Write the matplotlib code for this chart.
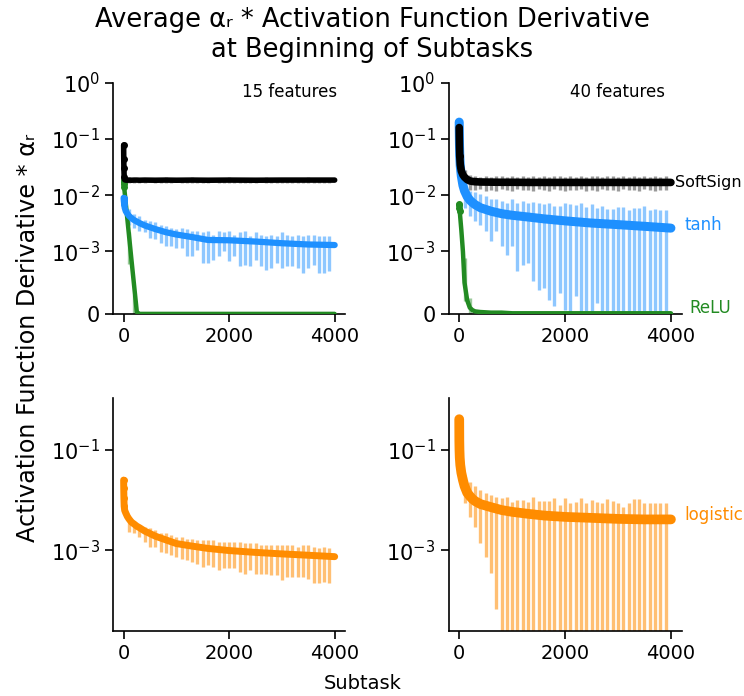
import matplotlib
matplotlib.use("Agg")
import matplotlib.pyplot as plt
from matplotlib.ticker import NullLocator

# subtask positions of the plotted means
mean_x = [0, 2, 5, 10, 20, 40, 70, 100, 150, 200, 250, 300, 400, 600, 800,
          1000, 1300, 1600, 2000, 2500, 3000, 3500, 4000]

# 15 features
softsign_15 = [0.078, 0.045, 0.03, 0.021, 0.0188, 0.0186, 0.0185, 0.0186, 0.0185, 0.0186, 0.0186, 0.0185,
               0.0186, 0.0185, 0.0186, 0.0185, 0.0186, 0.0185, 0.0186, 0.0185, 0.0186, 0.0186, 0.0186]
tanh_15 = [0.009, 0.0085, 0.0078, 0.007, 0.006, 0.0052, 0.0047, 0.0043, 0.0039, 0.0036, 0.0034, 0.0032,
           0.0029, 0.0025, 0.0022, 0.0020, 0.0018, 0.0016, 0.00158, 0.0015, 0.0014, 0.00133, 0.0013]
relu_15 = [0.0185, 0.0175, 0.016, 0.0139, 0.0112, 0.0072, 0.0038, 0.002, 0.00085, 0.00044, 0.00003, 0.0,
           0.0, 0.0, 0.0, 0.0, 0.0, 0.0, 0.0, 0.0, 0.0, 0.0, 0.0]
logistic_15 = [0.025, 0.017, 0.011, 0.0075, 0.0062, 0.0055, 0.0047, 0.0042, 0.0036, 0.0033, 0.003, 0.0028,
               0.0024, 0.0019, 0.0016, 0.00135, 0.0012, 0.00108, 0.00098, 0.0009, 0.00084, 0.00079, 0.00074]

# 40 features
softsign_40 = [0.16, 0.11, 0.075, 0.05, 0.035, 0.027, 0.023, 0.021, 0.019, 0.018, 0.0176, 0.0174,
               0.0172, 0.0171, 0.017, 0.017, 0.0169, 0.0169, 0.0169, 0.0169, 0.0169, 0.0169, 0.0169]
tanh_40 = [0.2, 0.13, 0.08, 0.05, 0.033, 0.022, 0.015, 0.012, 0.0095, 0.0082, 0.0074, 0.0068,
           0.006, 0.0052, 0.0047, 0.0044, 0.0041, 0.0038, 0.0035, 0.0032, 0.0030, 0.0028, 0.0026]
relu_40 = [0.0069, 0.0066, 0.006, 0.0052, 0.004, 0.0024, 0.001, 0.0005, 0.00022, 0.0001, 0.00006, 0.00004,
           0.00003, 0.00002, 0.00002, 0.00001, 0.00001, 0.00001, 0.00001, 0.00001, 0.00001, 0.00001, 0.00001]
logistic_40 = [0.41, 0.15, 0.1, 0.07, 0.05, 0.035, 0.025, 0.019, 0.014, 0.012, 0.0105, 0.0095,
               0.0083, 0.0072, 0.0063, 0.0058, 0.0053, 0.0049, 0.0046, 0.0044, 0.0042, 0.0041, 0.0041]

# error bars, every 100 subtasks
bar_x = [100, 200, 300, 400, 500, 600, 700, 800, 900, 1000, 1100, 1200, 1300, 1400, 1500, 1600,
         1700, 1800, 1900, 2000, 2100, 2200, 2300, 2400, 2500, 2600, 2700, 2800, 2900, 3000, 3100,
         3200, 3300, 3400, 3500, 3600, 3700, 3800, 3900]

softsign_15_lo = [0.0166, 0.0168, 0.0167, 0.0168, 0.0169, 0.0167, 0.0168, 0.0167, 0.0168, 0.0169,
                  0.0167, 0.0168, 0.0166, 0.0168, 0.0167, 0.0168, 0.0169, 0.0167, 0.0168, 0.0167,
                  0.0168, 0.0166, 0.0168, 0.0167, 0.0168, 0.0169, 0.0167, 0.0168, 0.0167, 0.0168,
                  0.0167, 0.0168, 0.0166, 0.0168, 0.0167, 0.0168, 0.0167, 0.0168, 0.0167]
softsign_15_hi = [0.0208, 0.0206, 0.0205, 0.0206, 0.0204, 0.0206, 0.0205, 0.0207, 0.0205, 0.0204,
                  0.0206, 0.0205, 0.0207, 0.0205, 0.0206, 0.0204, 0.0205, 0.0206, 0.0205, 0.0207,
                  0.0205, 0.0206, 0.0204, 0.0206, 0.0205, 0.0206, 0.0207, 0.0205, 0.0206, 0.0204,
                  0.0206, 0.0205, 0.0206, 0.0205, 0.0207, 0.0205, 0.0206, 0.0205, 0.0206]
tanh_15_lo = [0.0030, 0.00265, 0.0023, 0.0022, 0.00176, 0.00164, 0.0014, 0.00124, 0.00124, 0.00114,
              0.00114, 0.00092, 0.00092, 0.00108, 0.00082, 0.00082, 0.00087, 0.00092, 0.00101, 0.00084,
              0.00092, 0.00076, 0.00079, 0.00076, 0.00087, 0.00076, 0.00071, 0.00074, 0.00082, 0.00074,
              0.00076, 0.00076, 0.00074, 0.00066, 0.00074, 0.00079, 0.00066, 0.00066, 0.00068]
tanh_15_hi = [0.0056, 0.0046, 0.0042, 0.0037, 0.0035, 0.0033, 0.0030, 0.0028, 0.0026, 0.0025,
              0.0026, 0.0025, 0.0023, 0.0023, 0.0022, 0.0023, 0.0020, 0.0023, 0.0022, 0.0023,
              0.0020, 0.0022, 0.0023, 0.0019, 0.0022, 0.0020, 0.0019, 0.0020, 0.0019, 0.0022,
              0.0020, 0.0019, 0.0020, 0.0019, 0.0020, 0.0020, 0.0019, 0.0019, 0.0019]
relu_15_lo = [0.0008, 0.0]
relu_15_hi = [0.0022, 0.0003]
logistic_15_lo = [0.0023, 0.00215, 0.00185, 0.00147, 0.00117, 0.00117, 0.00093, 0.00087, 0.0008, 0.00074,
                  0.00068, 0.00063, 0.00058, 0.00054, 0.00046, 0.0005, 0.00046, 0.0004, 0.00043, 0.00043,
                  0.00043, 0.00037, 0.00034, 0.0004, 0.00034, 0.00034, 0.00034, 0.00032, 0.00032, 0.00025,
                  0.00029, 0.00029, 0.00029, 0.00029, 0.00027, 0.00022, 0.00022, 0.00023, 0.00022]
logistic_15_hi = [0.0043, 0.0034, 0.00316, 0.0029, 0.0027, 0.0025, 0.00215, 0.00215, 0.0020, 0.00185,
                  0.00185, 0.0017, 0.0017, 0.00158, 0.00158, 0.00158, 0.00158, 0.00147, 0.00147, 0.00147,
                  0.00147, 0.00147, 0.00136, 0.00136, 0.00136, 0.00126, 0.00126, 0.00126, 0.00126, 0.00126,
                  0.00126, 0.00126, 0.00117, 0.00126, 0.00126, 0.00117, 0.00108, 0.00117, 0.00108]

softsign_40_lo = [0.0150, 0.0125, 0.0122, 0.0128, 0.0120, 0.0126, 0.0121, 0.0129, 0.0124, 0.0119,
                  0.0127, 0.0122, 0.0126, 0.0120, 0.0128, 0.0123, 0.0121, 0.0127, 0.0124, 0.0120,
                  0.0126, 0.0122, 0.0128, 0.0121, 0.0125, 0.0120, 0.0127, 0.0123, 0.0126, 0.0121,
                  0.0128, 0.0122, 0.0125, 0.0120, 0.0127, 0.0123, 0.0121, 0.0126, 0.0124]
softsign_40_hi = [0.0280, 0.0225, 0.0218, 0.0212, 0.0221, 0.0209, 0.0216, 0.0220, 0.0211, 0.0218,
                  0.0213, 0.0221, 0.0210, 0.0217, 0.0214, 0.0220, 0.0209, 0.0216, 0.0219, 0.0212,
                  0.0218, 0.0214, 0.0221, 0.0210, 0.0216, 0.0219, 0.0212, 0.0217, 0.0220, 0.0211,
                  0.0216, 0.0213, 0.0220, 0.0210, 0.0217, 0.0214, 0.0219, 0.0212, 0.0216]
tanh_40_lo = [0.006, 0.0043, 0.0035, 0.0030, 0.0023, 0.00153, 0.0023, 0.00124, 0.00095, 0.00124,
              0.00068, 0.00079, 0.00082, 0.00052, 0.00039, 0.00041, 0.00023, 0.00013, 0.00033, 0.00006,
              0.00002, 0.00028, 0.0, 0.0, 0.0, 0.00017, 0.0, 0.0, 0.0, 0.0,
              0.0, 0.0, 0.0, 0.0, 0.0, 0.0, 0.0, 0.0, 0.0]
tanh_40_hi = [0.015, 0.0119, 0.0112, 0.0104, 0.0097, 0.0087, 0.0087, 0.0079, 0.0074, 0.0085,
              0.0074, 0.0079, 0.0074, 0.0076, 0.0074, 0.0069, 0.0074, 0.0065, 0.0065, 0.0074,
              0.0069, 0.0066, 0.0074, 0.0063, 0.0069, 0.0060, 0.0065, 0.0058, 0.0056, 0.0063,
              0.0063, 0.0054, 0.0060, 0.0060, 0.0065, 0.0054, 0.0056, 0.0055, 0.0054]
relu_40_lo = [0.0002, 0.0]
relu_40_hi = [0.0009, 0.00025]
logistic_40_lo = [0.0087, 0.0046, 0.0029, 0.0014, 0.00072, 0.00035, 0.000068, 0.0, 0.0, 0.0,
                  0.0, 0.0, 0.0, 0.0, 0.0, 0.0, 0.0, 0.0, 0.0, 0.0,
                  0.0, 0.0, 0.0, 0.0, 0.0, 0.0, 0.0, 0.0, 0.0, 0.0,
                  0.0, 0.0, 0.0, 0.0, 0.0, 0.0, 0.0, 0.0, 0.0]
logistic_40_hi = [0.029, 0.023, 0.0191, 0.0158, 0.0136, 0.0126, 0.0117, 0.0108, 0.0113, 0.0093,
                  0.01, 0.01, 0.0093, 0.0113, 0.0097, 0.0097, 0.0097, 0.0108, 0.0079, 0.0108,
                  0.0086, 0.0093, 0.0108, 0.0086, 0.01, 0.0093, 0.0089, 0.0103, 0.0097, 0.0089,
                  0.0074, 0.0089, 0.0103, 0.0103, 0.0086, 0.0086, 0.0089, 0.0089, 0.0089]

c_soft = "black"
c_tanh = "#1e90ff"
c_relu = "forestgreen"
c_log = "darkorange"


def draw(ax, mean, lo, hi, color, bar_alpha, lw=4, nbars=None):
    xs = bar_x if nbars is None else bar_x[:nbars]
    ax.vlines(xs, lo, hi, color=color, alpha=bar_alpha, lw=2.4, zorder=1)
    ax.plot(mean_x, mean, color=color, lw=lw, solid_capstyle="round",
            solid_joinstyle="round", zorder=3)
    # the first few subtasks show up as separate dots
    ax.plot(mean_x[:4], mean[:4], "o", color=color, ms=4, zorder=3)


fig = plt.figure(figsize=(7.44, 6.96), dpi=100)
ax1 = fig.add_axes([0.152, 0.549, 0.312, 0.332])
ax2 = fig.add_axes([0.603, 0.549, 0.313, 0.332])
ax3 = fig.add_axes([0.152, 0.093, 0.312, 0.335])
ax4 = fig.add_axes([0.603, 0.093, 0.313, 0.335])

draw(ax1, relu_15, relu_15_lo, relu_15_hi, c_relu, 0.45, lw=3.2, nbars=2)
draw(ax1, tanh_15, tanh_15_lo, tanh_15_hi, c_tanh, 0.5, lw=4.5)
draw(ax1, softsign_15, softsign_15_lo, softsign_15_hi, c_soft, 0.3, lw=4)

draw(ax2, relu_40, relu_40_lo, relu_40_hi, c_relu, 0.45, lw=3.2, nbars=2)
draw(ax2, tanh_40, tanh_40_lo, tanh_40_hi, c_tanh, 0.5, lw=6.5)
draw(ax2, softsign_40, softsign_40_lo, softsign_40_hi, c_soft, 0.4, lw=5.5)

draw(ax3, logistic_15, logistic_15_lo, logistic_15_hi, c_log, 0.55, lw=5)
draw(ax4, logistic_40, logistic_40_lo, logistic_40_hi, c_log, 0.55, lw=7)

for ax in (ax1, ax2):
    ax.set_yscale("symlog", linthresh=1e-3, linscale=1)
    ax.set_ylim(0, 1)
    ax.set_yticks([0, 1e-3, 1e-2, 1e-1, 1])
for ax in (ax3, ax4):
    ax.set_yscale("log")
    ax.set_ylim(2.4e-5, 1.08)
    ax.set_yticks([1e-3, 1e-1])

for ax in (ax1, ax2, ax3, ax4):
    ax.yaxis.set_minor_locator(NullLocator())
    ax.set_xlim(-200, 4200)
    ax.set_xticks([0, 2000, 4000])
    ax.spines["top"].set_visible(False)
    ax.spines["right"].set_visible(False)
    ax.spines["left"].set_linewidth(1.2)
    ax.spines["bottom"].set_linewidth(1.2)
    ax.tick_params(axis="x", labelsize=14, length=6, width=1.2)
    ax.tick_params(axis="y", labelsize=15, length=6, width=1.2)

ax1.text(0.965, 1.0, "15 features", transform=ax1.transAxes, ha="right", va="top", fontsize=12)
ax2.text(0.927, 1.0, "40 features", transform=ax2.transAxes, ha="right", va="top", fontsize=12)

ax2.text(4080, softsign_40[-1], "SoftSign", color=c_soft, fontsize=11.5, va="center", clip_on=False)
ax2.text(4250, 0.003, "tanh", color=c_tanh, fontsize=12, va="center", clip_on=False)
ax2.text(4350, 0.0001, "ReLU", color=c_relu, fontsize=12, va="center", clip_on=False)
ax4.text(4250, 0.005, "logistic", color=c_log, fontsize=12, va="center", clip_on=False)

fig.suptitle("Average αᵣ * Activation Function Derivative\nat Beginning of Subtasks",
             fontsize=18.5, x=0.5, y=0.99, va="top")
fig.text(0.037, 0.515, "Activation Function Derivative * αᵣ", rotation=90,
         ha="center", va="center", fontsize=17.2)
fig.text(0.488, 0.018, "Subtask", ha="center", va="center", fontsize=14)

fig.savefig("out.png", dpi=100)
